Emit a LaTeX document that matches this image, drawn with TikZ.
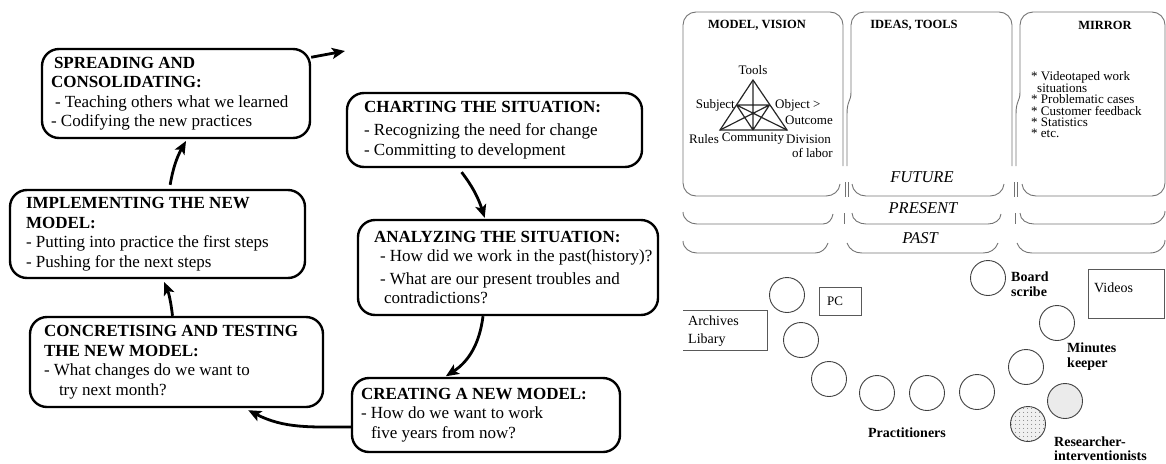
\documentclass[tikz,border=0pt]{standalone}
\usepackage{fontspec}
\setmainfont{Liberation Serif}
\usetikzlibrary{arrows.meta,patterns.meta,calc}
\begin{document}
\begin{tikzpicture}[x=1pt,y=1pt,
  stagebox/.style={draw=black, line width=2.4pt, rounded corners=17pt, inner sep=0pt},
  stagetext/.style={anchor=west, align=left, inner sep=0pt, font=\fontsize{17}{19.5}\selectfont},
  flow/.style={line width=2.8pt, -{Stealth[length=13pt,width=11pt,inset=3pt]}},
  panelline/.style={draw=black!55, line width=0.9pt},
  phead/.style={font=\fontsize{12.5}{14}\selectfont\bfseries, inner sep=0pt},
  tri/.style={font=\fontsize{13}{14}\selectfont, inner sep=0pt},
  trilines/.style={draw=black!85, line width=1.2pt},
  tense/.style={font=\fontsize{16.5}{18}\selectfont\itshape, inner sep=0pt},
  seat/.style={circle, draw=black!75, line width=0.9pt, minimum size=35pt, inner sep=0pt},
  role/.style={font=\fontsize{14}{15}\selectfont\bfseries, align=left, inner sep=0pt},
  thing/.style={draw=black!65, line width=0.9pt},
  thingtext/.style={font=\fontsize{14}{18}\selectfont, align=left, inner sep=0pt},
  mirrortext/.style={font=\fontsize{13}{11.4}\selectfont, align=left, inner sep=0pt}
]
\useasboundingbox (0,0) rectangle (1166,-463);

% ---------------- left cycle ----------------
\node[stagebox, minimum width=268pt, minimum height=89pt] (spread) at (176,-93.5) {};
\node[stagetext] (spreadT) at ($(spread.west)+(10,0)$)
 {\hspace*{3pt}\textbf{SPREADING AND}\\\textbf{CONSOLIDATING:}\\\hspace*{4pt}- Teaching others what we learned\\- Codifying the new practices};

\node[stagebox, minimum width=295pt, minimum height=74pt] (chart) at (494.5,-130) {};
\node[stagetext] (chartT) at ($(chart.west)+(18,0)$)
 {\textbf{CHARTING THE SITUATION:}\\[4pt]- Recognizing the need for change\\- Committing to development};

\node[stagebox, minimum width=300pt, minimum height=95pt] (analyze) at (508,-267.5) {};
\node[stagetext] (analyzeT) at ($(analyze.west)+(17,0)$)
 {\textbf{ANALYZING THE SITUATION:}\\\hspace*{6pt}- How did we work in the past(history)?\\[3pt]\hspace*{6pt}- What are our present troubles and\\\hspace*{10pt}contradictions?};

\node[stagebox, minimum width=268pt, minimum height=74pt] (create) at (486,-415) {};
\node[stagetext] (createT) at ($(create.west)+(10,0)$)
 {\textbf{CREATING A NEW MODEL:}\\- How do we want to work\\\hspace*{10pt}five years from now?};

\node[stagebox, minimum width=293pt, minimum height=90pt] (conc) at (176.5,-362) {};
\node[stagetext] (concT) at ($(conc.west)+(15,0)$)
 {\textbf{CONCRETISING AND TESTING}\\\textbf{THE NEW MODEL:}\\- What changes do we want to\\\hspace*{15pt}try next month?};

\node[stagebox, minimum width=295pt, minimum height=88pt] (impl) at (157.5,-234) {};
\node[stagetext] (implT) at ($(impl.west)+(17,0)$)
 {\textbf{IMPLEMENTING THE NEW}\\\textbf{MODEL:}\\- Putting into practice the first steps\\- Pushing for the next steps};

\coordinate (out) at (345,-51);
\draw[flow] (spread.15) -- (out);
\draw[flow, shorten <=4pt, shorten >=2pt] ($(impl.north)+(12,0)$) to[bend left=10] ($(spread.south)+(11,0)$);
\draw[flow, shorten <=5pt, shorten >=1pt] ($(chart.south)+(-36,0)$) to[bend left=10] ($(analyze.north)+(-23,0)$);
\draw[flow, shorten >=1pt] ($(analyze.south)+(-25,0)$) to[bend left=25] ($(create.north)+(-41,0)$);
\draw[flow] ($(create.west)+(0,-12)$) to[out=180,in=-27] ($(conc.south east)+(-76,-2)$);
\draw[flow, shorten >=3pt] ($(conc.north)+(-4,0)$) to[bend right=8] ($(impl.south)+(5.5,0)$);

% ---------------- right: panels ----------------
\draw[panelline, rounded corners=13pt] (843,-166) -- (843,-12) -- (683,-12) -- (683,-196) -- (826,-196);
\draw[panelline] (826,-196) to[out=0,in=-95] (840,-184);
\draw[panelline, rounded corners=13pt] (851,-92) -- (851,-12) -- (1012,-12) -- (1012,-166);
\draw[panelline] (851,-92) .. controls (851,-102) and (847,-100) .. (847,-114) -- (847,-166);
\draw[panelline] (852,-184) to[out=-85,in=180] (866,-196) -- (990,-196) to[out=0,in=-95] (1004,-184);
\draw[panelline, rounded corners=13pt] (1020,-92) -- (1020,-12) -- (1165,-12) -- (1165,-196) -- (1036,-196);
\draw[panelline] (1020,-92) .. controls (1020,-102) and (1016,-100) .. (1016,-114) -- (1016,-166);
\draw[panelline] (1036,-196) to[out=180,in=-85] (1022,-184);
\draw[panelline] (845,-182) -- (845,-197) (848,-182) -- (848,-197)
                 (1014,-182) -- (1014,-197) (1017,-182) -- (1017,-197);
\draw[panelline] (844,-213) -- (844,-224) (1015,-213) -- (1015,-224);
% present row
\draw[panelline] (683,-212) to[out=-90,in=180] (697,-224) -- (823,-224) to[out=0,in=-100] (833,-214);
\draw[panelline] (852,-213) to[out=-90,in=180] (866,-224) -- (988,-224) to[out=0,in=-95] (1001,-214);
\draw[panelline] (1020,-213) to[out=-90,in=180] (1034,-224) -- (1150,-224) to[out=0,in=-90] (1165,-211);
% past row
\draw[panelline] (683,-241) to[out=-90,in=180] (697,-253) -- (815,-253) to[out=0,in=-110] (828,-243);
\draw[panelline] (847,-243) to[out=-70,in=180] (862,-253) -- (983,-253) to[out=0,in=-110] (998,-243);
\draw[panelline] (1017,-243) to[out=-70,in=180] (1032,-253) -- (1150,-253) to[out=0,in=-90] (1165,-240);

\node[phead] (h1) at (757,-25) {MODEL, VISION};
\node[phead] (h2) at (914,-25) {IDEAS, TOOLS};
\node[phead] (h3) at (1105,-25) {MIRROR};

\node[tense] (future) at (922,-177) {FUTURE};
\node[tense] (present) at (923,-208) {PRESENT};
\node[tense] (past) at (920,-238) {PAST};

% activity triangle
\coordinate (tA) at (753,-80);
\coordinate (tL) at (720,-130);
\coordinate (tR) at (787,-130);
\coordinate (tS) at (736.5,-105);
\coordinate (tO) at (769.5,-105);
\coordinate (tC) at (753,-130);
\draw[trilines, line join=miter] (tA) -- (tL) -- (tR) -- cycle;
\draw[trilines] (tS) -- (tO) (tA) -- (tC) (tS) -- (tR) (tO) -- (tL) (tS) -- (tC) (tO) -- (tC);
\node[tri] (lTools) at (753,-70) {Tools};
\node[tri, anchor=east] (lSubj) at (735,-105) {Subject};
\node[tri, anchor=west] (lObj) at (775,-105) {Object >};
\node[tri, anchor=east] (lOut) at (833,-120) {Outcome};
\node[tri, anchor=east] (lRules) at (719,-139) {Rules};
\node[tri] (lComm) at (753,-139) {Community};
\node[tri, anchor=west] (lDiv) at (786,-139) {Division};
\node[tri, anchor=east] (lLab) at (833,-153) {of labor};

\node[mirrortext, anchor=west] (mirrorlist) at (1031,-105)
 {* Videotaped work\\\hspace*{6pt}situations\\* Problematic cases\\* Customer feedback\\* Statistics\\* etc.};

% ---------------- right: room ----------------
\draw[thing] (683,-310) -- (767,-310) -- (767,-350) -- (683,-350);
\node[thingtext, anchor=west] (archT) at (688,-331) {Archives\\Libary};
\draw[thing] (819,-287) rectangle (861,-315);
\node[font=\fontsize{13}{14}\selectfont, inner sep=0pt] (pcT) at (835,-301) {PC};
\draw[thing] (1088,-269) -- (1164,-269) -- (1164,-318) -- (1088,-318) -- cycle;
\node[thingtext, anchor=west] (vidT) at (1094,-288) {Videos};

\node[seat] (c1) at (787,-295) {};
\node[seat] (c2) at (801,-340) {};
\node[seat] (c3) at (829,-379) {};
\node[seat] (c4) at (877,-393) {};
\node[seat] (c5) at (927,-393) {};
\node[seat] (c6) at (977,-392) {};
\node[seat] (c7) at (1026,-367) {};
\node[seat] (c8) at (1057,-323) {};
\node[seat] (c9) at (988,-278) {};
\node[seat, fill=black!8] (c10) at (1065,-401) {};
\node[seat, preaction={fill=black!6}, pattern={Dots[distance=4pt,radius=0.5pt]}, pattern color=black!70] (c11) at (1028,-424) {};

\node[role, anchor=west] (board) at (1011,-284.5) {Board\\scribe};
\node[role, anchor=west] (minutes) at (1067,-356.5) {Minutes\\keeper};
\node[role] (pract) at (907,-433) {Practitioners};
\node[role, anchor=west, font=\fontsize{14}{14}\selectfont\bfseries] (resint) at (1054,-449) {Researcher-\\interventionists};
\end{tikzpicture}
\end{document}
